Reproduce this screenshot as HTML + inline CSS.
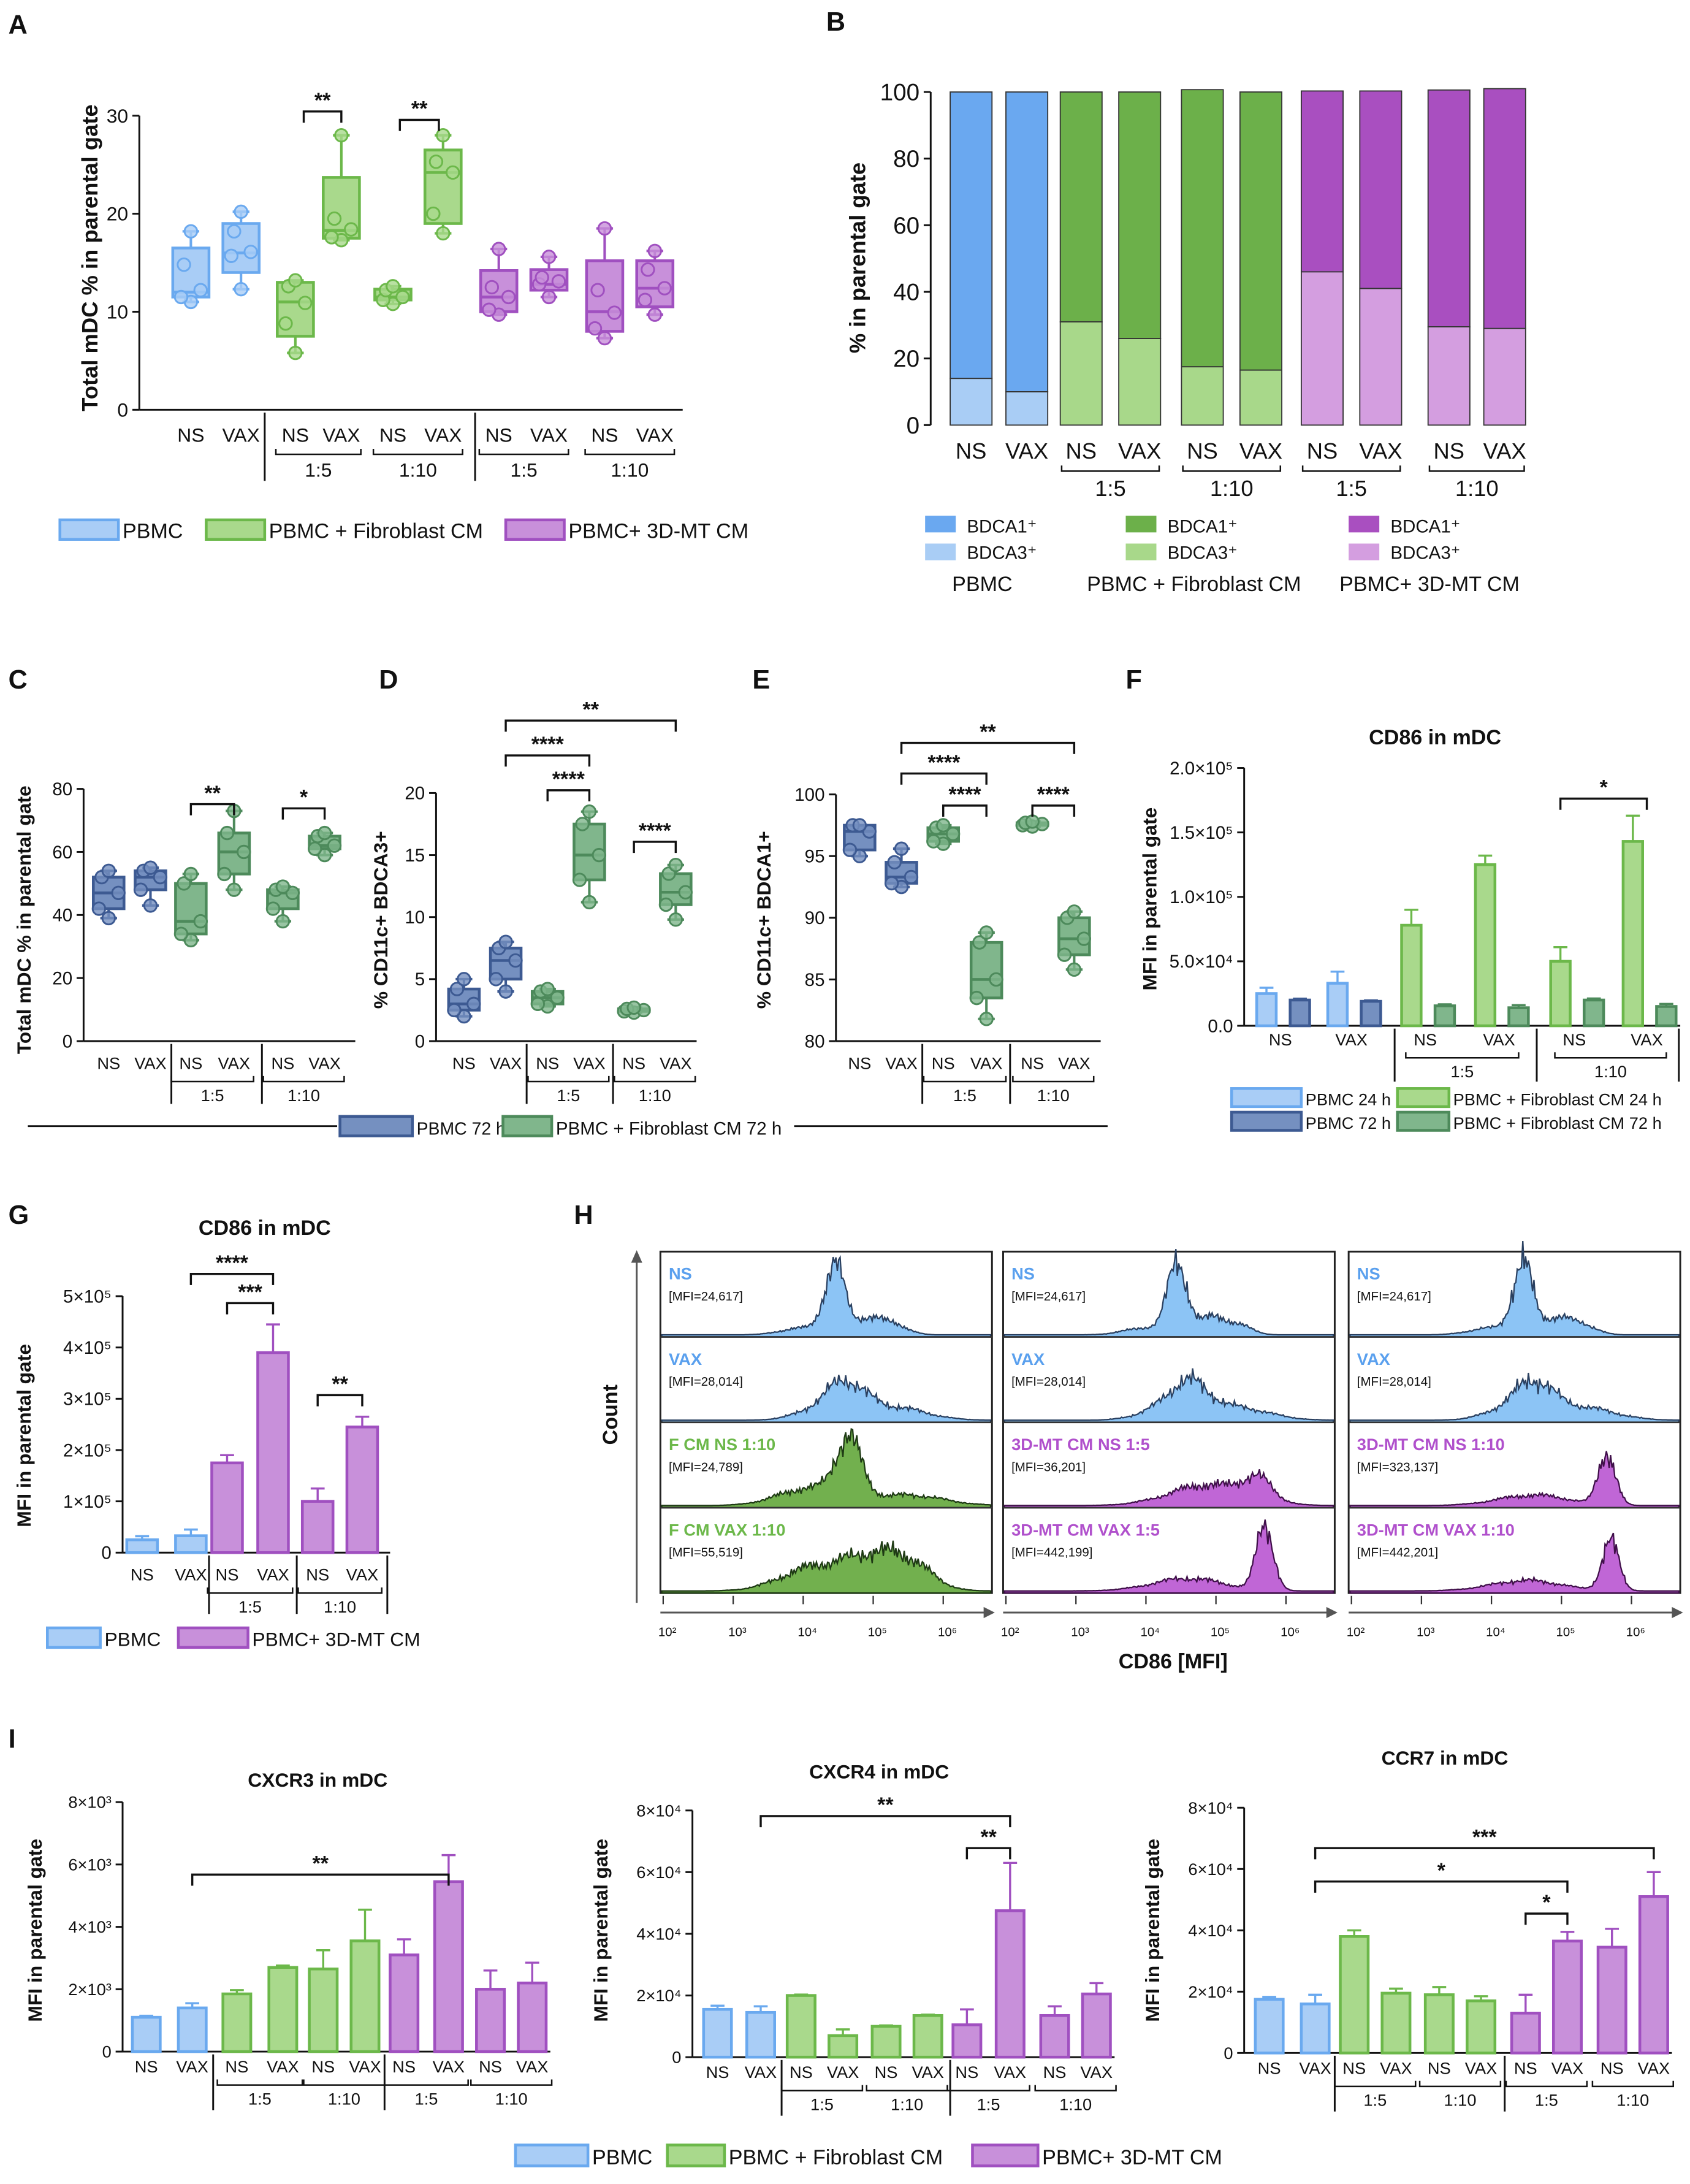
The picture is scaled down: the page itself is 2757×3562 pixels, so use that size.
<!DOCTYPE html>
<html><head><meta charset="utf-8">
<style>
html,body{margin:0;padding:0;background:#fff;}
svg{display:block;font-family:"Liberation Sans",sans-serif;}
</style></head>
<body>
<svg id="fig" xmlns="http://www.w3.org/2000/svg" width="2757" height="3562" viewBox="0 0 1213 1567" preserveAspectRatio="none"></svg>
<script>
// ---------- DATA ----------
const aCats = ["NS","VAX","NS","VAX","NS","VAX","NS","VAX","NS","VAX"];
const aStats = [[11,11.5,12,16.5,18.2],[12.3,14,16,19,20.2],[5.8,7.5,11,13,13.2],[17.3,17.5,18.3,23.7,28],[10.8,11.2,11.5,12.3,12.6],[18,19,24.2,26.5,28],[9.7,10,11.5,14.2,16.4],[11.5,12.2,12.8,14.3,15.6],[7.3,8,10,15.2,18.5],[9.7,10.5,12.4,15.2,16.2]];
const aPoints = [[11,11.5,12.2,14.8,18.2],[12.3,15.7,16.1,18.2,20.2],[5.8,8.8,10.9,12.6,13.2],[17.3,17.6,18.4,19.5,28],[10.8,11.2,11.5,12.2,12.6],[18,20,24.2,25.3,28],[9.7,10.2,11.5,12.5,16.4],[11.5,12.8,13.1,13.5,15.6],[7.3,8.3,9.9,12.2,18.5],[9.7,11.2,12.4,14.3,16.2]];
const aTicks = [0,10,20,30];
const bCats = ["NS","VAX","NS","VAX","NS","VAX","NS","VAX","NS","VAX"];
const bBDCA3 = [14,10,31,26,17.5,16.5,46,41,29.5,29];
const bTotal = [100,100,100,100,100.7,100,100.3,100.3,100.6,101];
const bTicks = [0,20,40,60,80,100];
const cStats = [[39,42,47,52,54],[43,48,52,54,55],[32,34,38,50,53],[48,53,60,66,73],[38,42,47,48,49],[59,61,62,65,66]];
const cTicks = [0,20,40,60,80];
const dStats = [[2,2.5,3,4.2,5],[4,5,6.5,7.5,8],[2.8,3,3.5,4,4.2],[11.2,13,15,17.5,18.5],[2.3,2.4,2.5,2.6,2.7],[9.8,11,12,13.5,14.2]];
const dTicks = [0,5,10,15,20];
const eStats = [[95,95.5,97,97.5,97.5],[92.5,92.8,93.3,94.5,95.6],[96,96.2,96.8,97.3,97.5],[81.8,83.5,85,88,88.8],[97.4,97.5,97.6,97.7,97.8],[85.8,87,88.3,90,90.5]];
const eTicks = [80,85,90,95,100];
const cdeCats = ["NS","VAX","NS","VAX","NS","VAX"];
const fCats = ["NS","VAX","NS","VAX","NS","VAX"];
const f24 = [25000,33000,78000,125000,50000,143000];
const f24err = [4500,9000,12000,7000,11000,20000];
const f72 = [20000,19000,15500,14000,20000,15000];
const f72err = [1000,700,1200,2000,1200,2000];
const fTicks = [0,50000,100000,150000,200000];
const fTickLabels = ["0.0","5.0×10⁴","1.0×10⁵","1.5×10⁵","2.0×10⁵"];
const gCats = ["NS","VAX","NS","VAX","NS","VAX"];
const gVals = [25000,33000,175000,390000,100000,245000];
const gErr = [7000,12000,15000,55000,25000,20000];
const gTicks = [0,100000,200000,300000,400000,500000];
const gTickLabels = ["0","1×10⁵","2×10⁵","3×10⁵","4×10⁵","5×10⁵"];
const hNames = ["NS","VAX","F CM NS 1:10","F CM VAX 1:10","NS","VAX","3D-MT CM NS 1:5","3D-MT CM VAX 1:5","NS","VAX","3D-MT CM NS 1:10","3D-MT CM VAX 1:10"];
const hMFI = ["[MFI=24,617]","[MFI=28,014]","[MFI=24,789]","[MFI=55,519]","[MFI=24,617]","[MFI=28,014]","[MFI=36,201]","[MFI=442,199]","[MFI=24,617]","[MFI=28,014]","[MFI=323,137]","[MFI=442,201]"];
const hKind = ["b","b","g","g","b","b","p","p","b","b","p","p"];
const hComps = [
 [[4.45,0.14,1],[4.95,0.2,0.25],[5.35,0.18,0.12],[4.0,0.3,0.1]],
 [[4.6,0.28,0.5],[5.3,0.45,0.18],[4.1,0.3,0.1]],
 [[4.65,0.18,0.85],[4.1,0.45,0.25],[5.5,0.5,0.15]],
 [[4.1,0.45,0.3],[5.05,0.45,0.5],[5.6,0.3,0.2]],
 [[4.45,0.14,1],[4.95,0.2,0.25],[5.35,0.18,0.12],[4.0,0.3,0.1]],
 [[4.6,0.28,0.5],[5.3,0.45,0.18],[4.1,0.3,0.1]],
 [[4.9,0.55,0.3],[5.6,0.2,0.3]],
 [[4.6,0.5,0.18],[5.7,0.12,0.95]],
 [[4.45,0.14,1],[4.95,0.2,0.25],[5.35,0.18,0.12],[4.0,0.3,0.1]],
 [[4.6,0.28,0.5],[5.3,0.45,0.18],[4.1,0.3,0.1]],
 [[4.6,0.5,0.15],[5.65,0.12,0.75]],
 [[4.5,0.5,0.15],[5.7,0.12,0.7]]
];
const hAxisLabels = ["10²","10³","10⁴","10⁵","10⁶"];
const iCats = ["NS","VAX","NS","VAX","NS","VAX","NS","VAX","NS","VAX"];
const iKinds = ["b","b","g","g","g","g","p","p","p","p"];
const cxcr3 = [1100,1400,1850,2700,2650,3550,3100,5450,2000,2200];
const cxcr3err = [50,150,120,60,600,1000,500,850,600,650];
const cxcr4 = [15500,14500,20000,7000,10000,13500,10500,47500,13500,20500];
const cxcr4err = [1200,2000,300,2000,300,300,5000,15500,3000,3500];
const ccr7 = [17500,16000,38000,19500,19000,17000,13000,36500,34500,51000];
const ccr7err = [800,3000,2000,1500,2500,1500,6000,3000,6000,8000];
const i3Ticks = [0,2000,4000,6000,8000];
const i3Labels = ["0","2×10³","4×10³","6×10³","8×10³"];
const i4Ticks = [0,20000,40000,60000,80000];
const i4Labels = ["0","2×10⁴","4×10⁴","6×10⁴","8×10⁴"];

// ---------- HELPERS ----------
const NS = "http://www.w3.org/2000/svg";
const root = document.getElementById("fig");
function mk(tag, attrs, name, parent){
  const el = document.createElementNS(NS, tag);
  for (const k in attrs) el.setAttribute(k, attrs[k]);
  
  
  (parent||root).appendChild(el);
  return el;
}
function txt(p,x,y,s,name,o){
  o=o||{};
  const el = mk("text",{x:x,y:y,"font-size":o.fs||13,"text-anchor":o.a||"middle",fill:o.c||"#111","font-weight":o.b?"bold":"normal"},name,p);
  if(o.rot) el.setAttribute("transform","rotate(-90 "+x+" "+y+")");
  el.textContent = s;
  return el;
}
function line(p,x1,y1,x2,y2,name,c,w){
  return mk("line",{x1:x1,y1:y1,x2:x2,y2:y2,stroke:c||"#111","stroke-width":w||1.3},name,p);
}
function lin(d0,d1,r0,r1){return v=>r0+(v-d0)*(r1-r0)/(d1-d0);}
function yAxis(p,x,sc,ticks,labels,fs,name){
  const g = mk("g",{},name,p);
  line(g,x,sc(ticks[0]),x,sc(ticks[ticks.length-1]),"y-axis-line");
  ticks.forEach((t,i)=>{
    line(g,x-5,sc(t),x,sc(t),"y-tick");
    txt(g,x-8,sc(t)+fs*0.35,labels[i],"y-tick-label",{fs:fs,a:"end"});
  });
  return g;
}
function sig(p,x1,x2,y,s,name){
  const g = mk("g",{},name,p);
  mk("path",{d:`M${x1},${y+8}V${y}H${x2}V${y+8}`,fill:"none",stroke:"#111","stroke-width":1.5},"significance-bracket",g);
  txt(g,(x1+x2)/2,y-3,s,"significance-stars",{fs:15,b:true});
}
function catAxis(p,xs,cats,y,groups,fs,seps,sepTop,sepBot,name){
  const g = mk("g",{},name,p);
  cats.forEach((c,i)=>txt(g,xs[i],y,c,"x-category-label",{fs:fs}));
  groups.forEach(gr=>{
    const a=xs[gr[0]]-14,b=xs[gr[1]]+14,yy=y+9;
    mk("path",{d:`M${a},${yy-4}V${yy}H${b}V${yy-4}`,fill:"none",stroke:"#111","stroke-width":1.1},"group-bracket",g);
    txt(g,(a+b)/2,yy+fs+2,gr[2],"group-label",{fs:fs});
  });
  seps.forEach(sx=>line(g,sx,sepTop,sx,sepBot,"group-separator"));
}
function box(p,cx,w,st,pts,sc,fill,stroke,name){
  const g = mk("g",{},name,p);
  line(g,cx,sc(st[0]),cx,sc(st[4]),"whisker",stroke,1.8);
  line(g,cx-6,sc(st[0]),cx+6,sc(st[0]),"whisker-cap",stroke,1.8);
  line(g,cx-6,sc(st[4]),cx+6,sc(st[4]),"whisker-cap",stroke,1.8);
  mk("rect",{x:cx-w/2,y:sc(st[3]),width:w,height:sc(st[1])-sc(st[3]),fill:fill,stroke:stroke,"stroke-width":2},"box",g);
  line(g,cx-w/2,sc(st[2]),cx+w/2,sc(st[2]),"median",stroke,2);
  pts.forEach((v,i)=>{
    const dx=[0,-7,7,-5,5][i%5];
    mk("circle",{cx:cx+(i==0||i==4?0:dx),cy:sc(v),r:4.5,fill:fill,stroke:stroke,"stroke-width":1.3,"fill-opacity":0.8},"data-point",g);
  });
}
function bar(p,cx,w,v,e,sc,fill,stroke,name){
  const g = mk("g",{},name,p);
  if(e>0){
    line(g,cx,sc(v),cx,sc(v+e),"error-bar",stroke,1.5);
    line(g,cx-5,sc(v+e),cx+5,sc(v+e),"error-cap",stroke,1.5);
  }
  mk("rect",{x:cx-w/2,y:sc(v),width:w,height:sc(0)-sc(v),fill:fill,stroke:stroke,"stroke-width":2},"bar",g);
}
function swatch(p,x,y,w,h,fill,stroke,label,fs,name){
  const g = mk("g",{},name,p);
  mk("rect",{x:x,y:y,width:w,height:h,fill:fill,stroke:stroke,"stroke-width":2},"legend-swatch",g);
  txt(g,x+w+3,y+h-1,label,"legend-label",{fs:fs,a:"start"});
}
const COL = {
  b:["#a9cdf6","#6aa9ef"], g:["#a9d98c","#6cb84a"], p:["#c890da","#a050c0"],
  db:["#7590c0","#3d5a92"], dg:["#80b68c","#4d8a5b"]
};
function letter(x,y,s){ txt(root,x,y,s,"panel-letter-"+s.toLowerCase(),{fs:19,b:true,a:"start"}); }

// ---------- PANEL A ----------
(function(){
  const p = mk("g",{},"panel-a");
  letter(6,24,"A");
  const sc = lin(0,30,294,83);
  const xs = [137,173,212,245,282,318,358,394,434,470];
  yAxis(p,100,sc,aTicks,aTicks.map(String),14,"y-axis");
  line(p,100,294,490,294,"x-axis-line");
  txt(p,70,185,"Total mDC % in parental gate","y-axis-title",{fs:16,b:true,rot:true});
  aStats.forEach((st,i)=>{
    const k = i<2?"b":(i<6?"g":"p");
    box(p,xs[i],26,st,aPoints[i],sc,COL[k][0],COL[k][1],"box-"+i);
  });
  catAxis(p,xs,aCats,317,[[2,3,"1:5"],[4,5,"1:10"],[6,7,"1:5"],[8,9,"1:10"]],14,[190,341],296,345,"x-axis");
  sig(p,218,245,80,"**","sig-a-1");
  sig(p,287,315,86,"**","sig-a-2");
  swatch(p,43,373,42,14,COL.b[0],COL.b[1],"PBMC",15,"legend-pbmc");
  swatch(p,148,373,42,14,COL.g[0],COL.g[1],"PBMC + Fibroblast CM",15,"legend-fibroblast");
  swatch(p,363,373,42,14,COL.p[0],COL.p[1],"PBMC+ 3D-MT CM",15,"legend-3dmt");
})();

// ---------- PANEL B ----------
(function(){
  const p = mk("g",{},"panel-b");
  letter(593,22,"B");
  const sc = lin(0,100,305,66);
  const xs = [697,737,776,818,863,905,949,991,1040,1080];
  yAxis(p,668,sc,bTicks,bTicks.map(String),17,"y-axis");
  txt(p,621,185,"% in parental gate","y-axis-title",{fs:16,b:true,rot:true});
  const dark=["#6aa8f0","#6cb04a","#a94fc0"], light=["#a9cdf5","#a8d88a","#d49ee0"];
  bCats.forEach((c,i)=>{
    const k = i<2?0:(i<6?1:2);
    const g = mk("g",{},"stacked-bar-"+i,p);
    mk("rect",{x:xs[i]-15,y:sc(bTotal[i]),width:30,height:sc(bBDCA3[i])-sc(bTotal[i]),fill:dark[k],stroke:"#333","stroke-width":0.8},"bar-bdca1",g);
    mk("rect",{x:xs[i]-15,y:sc(bBDCA3[i]),width:30,height:sc(0)-sc(bBDCA3[i]),fill:light[k],stroke:"#333","stroke-width":0.8},"bar-bdca3",g);
  });
  catAxis(p,xs,bCats,329,[[2,3,"1:5"],[4,5,"1:10"],[6,7,"1:5"],[8,9,"1:10"]],16,[],0,0,"x-axis");
  const lx=[664,808,968], ln=["PBMC","PBMC + Fibroblast CM","PBMC+ 3D-MT CM"], lc=[705,857,1026];
  lx.forEach((x,k)=>{
    const g = mk("g",{},"legend-b-"+k,p);
    mk("rect",{x:x,y:370,width:22,height:12,fill:dark[k]},"legend-swatch-bdca1",g);
    txt(g,x+30,382,"BDCA1⁺","legend-label",{fs:13,a:"start"});
    mk("rect",{x:x,y:390,width:22,height:12,fill:light[k]},"legend-swatch-bdca3",g);
    txt(g,x+30,401,"BDCA3⁺","legend-label",{fs:13,a:"start"});
    txt(g,lc[k],424,ln[k],"legend-group-label",{fs:15});
  });
})();

// ---------- PANELS C, D, E ----------
function cdePanel(name,ax,xs,sc,ticks,stats,title,titleX,seps,xEnd){
  const p = mk("g",{},name);
  yAxis(p,ax,sc,ticks,ticks.map(String),13,"y-axis");
  line(p,ax,747,xEnd,747,"x-axis-line");
  txt(p,titleX,660,title,"y-axis-title",{fs:14,b:true,rot:true});
  stats.forEach((st,i)=>{
    const k = i<2?"db":"dg";
    box(p,xs[i],22,st,st,sc,COL[k][0],COL[k][1],"box-"+i);
  });
  catAxis(p,xs,cdeCats,767,[[2,3,"1:5"],[4,5,"1:10"]],12,seps,749,792,"x-axis");
  return p;
}
letter(6,494,"C"); letter(272,494,"D"); letter(540,494,"E");
const pC = cdePanel("panel-c",60,[78,108,137,168,203,233],lin(0,80,747,566),cTicks,cStats,"Total mDC % in parental gate",22,[123,188],255);
sig(pC,137,168,577,"**","sig-c-1");
sig(pC,203,233,580,"*","sig-c-2");
const pD = cdePanel("panel-d",313,[333,363,393,423,455,485],lin(0,20,747,569),dTicks,dStats,"% CD11c+ BDCA3+",278,[378,440],500);
sig(pD,363,485,517,"**","sig-d-1");
sig(pD,363,423,542,"****","sig-d-2");
sig(pD,393,423,567,"****","sig-d-3");
sig(pD,455,485,604,"****","sig-d-4");
const pE = cdePanel("panel-e",600,[617,647,677,708,741,771],lin(80,100,747,570),eTicks,eStats,"% CD11c+ BDCA1+",553,[662,725],790);
sig(pE,647,771,533,"**","sig-e-1");
sig(pE,647,708,555,"****","sig-e-2");
sig(pE,677,708,578,"****","sig-e-3");
sig(pE,741,771,578,"****","sig-e-4");
line(root,20,808,242,808,"cde-divider-line-left");
line(root,570,808,795,808,"cde-divider-line-right");
swatch(root,244,801,52,14,COL.db[0],COL.db[1],"PBMC 72 h",12.5,"legend-pbmc-72h");
swatch(root,361,801,35,14,COL.dg[0],COL.dg[1],"PBMC + Fibroblast CM 72 h",13,"legend-fibroblast-72h");

// ---------- PANEL F ----------
(function(){
  const p = mk("g",{},"panel-f");
  letter(808,494,"F");
  const sc = lin(0,200000,736,551);
  const xs = [919,970,1023,1076,1130,1182];
  txt(p,1030,534,"CD86 in mDC","chart-title",{fs:15,b:true});
  yAxis(p,893,sc,fTicks,fTickLabels,13,"y-axis");
  line(p,893,736,1206,736,"x-axis-line");
  txt(p,830,645,"MFI in parental gate","y-axis-title",{fs:14,b:true,rot:true});
  fCats.forEach((c,i)=>{
    const k1 = i<2?"b":"g", k2 = i<2?"db":"dg";
    bar(p,xs[i]-10,14,f24[i],f24err[i],sc,COL[k1][0],COL[k1][1],"bar-24h-"+i);
    bar(p,xs[i]+14,14,f72[i],f72err[i],sc,COL[k2][0],COL[k2][1],"bar-72h-"+i);
  });
  catAxis(p,xs,fCats,750,[[2,3,"1:5"],[4,5,"1:10"]],12,[1001,1103,1205],738,776,"x-axis");
  sig(p,1120,1182,573,"*","sig-f-1");
  swatch(p,884,781,50,13,COL.b[0],COL.b[1],"PBMC 24 h",12,"legend-pbmc-24h");
  swatch(p,884,798,50,13,COL.db[0],COL.db[1],"PBMC 72 h",12,"legend-pbmc-72h");
  swatch(p,1003,781,37,13,COL.g[0],COL.g[1],"PBMC + Fibroblast CM 24 h",12,"legend-fcm-24h");
  swatch(p,1003,798,37,13,COL.dg[0],COL.dg[1],"PBMC + Fibroblast CM 72 h",12,"legend-fcm-72h");
})();

// ---------- PANEL G ----------
(function(){
  const p = mk("g",{},"panel-g");
  letter(6,878,"G");
  const sc = lin(0,500000,1114,930);
  const xs = [102,137,163,196,228,260];
  txt(p,190,886,"CD86 in mDC","chart-title",{fs:15,b:true});
  yAxis(p,88,sc,gTicks,gTickLabels,13,"y-axis");
  line(p,88,1114,280,1114,"x-axis-line");
  txt(p,22,1030,"MFI in parental gate","y-axis-title",{fs:14,b:true,rot:true});
  gCats.forEach((c,i)=>{
    const k = i<2?"b":"p";
    bar(p,xs[i],22,gVals[i],gErr[i],sc,COL[k][0],COL[k][1],"bar-"+i);
  });
  catAxis(p,xs,gCats,1134,[[2,3,"1:5"],[4,5,"1:10"]],12,[150,213,278],1116,1158,"x-axis");
  sig(p,137,196,914,"****","sig-g-1");
  sig(p,163,196,935,"***","sig-g-2");
  sig(p,228,260,1001,"**","sig-g-3");
  swatch(p,34,1168,38,14,COL.b[0],COL.b[1],"PBMC",14,"legend-pbmc");
  swatch(p,128,1168,50,14,COL.p[0],COL.p[1],"PBMC+ 3D-MT CM",14,"legend-3dmt");
})();

// ---------- PANEL H ----------
(function(){
  const p = mk("g",{},"panel-h");
  letter(412,878,"H");
  txt(p,443,1015,"Count","y-axis-title",{fs:15,b:true,rot:true});
  line(p,457,1150,457,902,"count-axis-arrow","#555",1.3);
  mk("path",{d:"M453,906 L457,897 L461,906 Z",fill:"#555"},"count-arrowhead",p);
  const lefts=[474,720,968], top=898, rowH=61.25, pw=238;
  const hcol = {b:["#8cc4f5","#2a4060"],g:["#72b04e","#1e3a14"],p:["#c066d6","#40104a"]};
  const tcol = {b:"#5aa0ee",g:"#6cb84a",p:"#b050cc"};
  lefts.forEach((lx,pi)=>{
    const g = mk("g",{},"histogram-panel-"+pi,p);
    mk("rect",{x:lx,y:top,width:pw,height:rowH*4,fill:"none",stroke:"#222","stroke-width":1.3},"panel-frame",g);
    const xsc = lin(2,6,lx+2,lx+203);
    for(let r=0;r<4;r++){
      const idx=pi*4+r, base=top+rowH*(r+1), k=hKind[idx];
      let d=`M${lx+1},${base}`;
      for(let x=lx+1;x<=lx+pw-1;x++){
        const lv=2+(x-lx-2)/(201/4);
        let v=0;
        hComps[idx].forEach(c=>{v+=c[2]*Math.exp(-0.5*Math.pow((lv-c[0])/c[1],2));});
        const j=1+0.18*Math.sin(x*1.9+idx)*Math.sin(x*0.43+r)+0.08*Math.sin(x*3.1)+0.1*Math.sin(x*0.21+idx*2);
        v=Math.max(0,v*j)+0.01;
        d+=` L${x},${(base-1-v*50).toFixed(1)}`;
      }
      d+=` L${lx+pw-1},${base} Z`;
      mk("path",{d:d,fill:hcol[k][0],stroke:hcol[k][1],"stroke-width":1},"histogram-"+idx,g);
      if(r<3) line(g,lx,base,lx+pw,base,"row-divider","#333",1.2);
      txt(g,lx+6,top+rowH*r+20,hNames[idx],"histogram-label",{fs:12,b:true,a:"start",c:tcol[k]});
      txt(g,lx+6,top+rowH*r+35,hMFI[idx],"histogram-mfi",{fs:9,a:"start"});
    }
    line(g,lx,1157,lx+pw,1157,"x-axis-arrow","#555",1.3);
    mk("path",{d:`M${lx+pw-6},1153 L${lx+pw+2},1157 L${lx+pw-6},1161 Z`,fill:"#555"},"x-arrowhead",g);
    for(let t=0;t<5;t++){
      line(g,xsc(2+t),1145,xsc(2+t),1151,"x-tick","#333",1);
      txt(g,xsc(2+t)+3,1174,hAxisLabels[t],"x-tick-label",{fs:9});
    }
  });
  txt(p,842,1197,"CD86 [MFI]","x-axis-title",{fs:15,b:true});
})();

// ---------- PANEL I ----------
function iChart(name,title,titleX,titleY,ax,y0,y8,xs,vals,errs,ticks,labels,seps,xEnd,ylx){
  const p = mk("g",{},name);
  const sc = lin(ticks[0],ticks[ticks.length-1],y0,y8);
  txt(p,titleX,titleY,title,"chart-title",{fs:14,b:true});
  yAxis(p,ax,sc,ticks,labels,12,"y-axis");
  line(p,ax,y0,xEnd,y0,"x-axis-line");
  txt(p,ylx,1385,"MFI in parental gate","y-axis-title",{fs:14,b:true,rot:true});
  vals.forEach((v,i)=>{
    const k=iKinds[i];
    bar(p,xs[i],20,v,errs[i],sc,COL[k][0],COL[k][1],"bar-"+i);
  });
  catAxis(p,xs,iCats,y0+15,[[2,3,"1:5"],[4,5,"1:10"],[6,7,"1:5"],[8,9,"1:10"]],12,seps,y0+2,y0+42,"x-axis");
  return p;
}
letter(6,1254,"I");
const pI1 = iChart("panel-i-cxcr3","CXCR3 in mDC",228,1282,88,1472,1293,[105,138,170,203,232,262,290,322,352,382],cxcr3,cxcr3err,i3Ticks,i3Labels,[153,276],395,30);
sig(pI1,138,322,1345,"**","sig-i1-1");
const pI2 = iChart("panel-i-cxcr4","CXCR4 in mDC",631,1276,497,1476,1299,[515,546,575,605,636,666,694,725,757,787],cxcr4,cxcr4err,i4Ticks,i4Labels,[561,682],800,436);
sig(pI2,546,725,1303,"**","sig-i2-1");
sig(pI2,694,725,1326,"**","sig-i2-2");
const pI3 = iChart("panel-i-ccr7","CCR7 in mDC",1037,1266,893,1473,1297,[911,944,972,1002,1033,1063,1095,1125,1157,1187],ccr7,ccr7err,i4Ticks,i4Labels,[958,1080],1200,832);
sig(pI3,944,1187,1326,"***","sig-i3-1");
sig(pI3,944,1125,1350,"*","sig-i3-2");
sig(pI3,1095,1125,1373,"*","sig-i3-3");
swatch(root,370,1539,52,15,COL.b[0],COL.b[1],"PBMC",15,"legend-i-pbmc");
swatch(root,479,1539,41,15,COL.g[0],COL.g[1],"PBMC + Fibroblast CM",15,"legend-i-fibroblast");
swatch(root,698,1539,47,15,COL.p[0],COL.p[1],"PBMC+ 3D-MT CM",15,"legend-i-3dmt");
</script>
</body></html>
